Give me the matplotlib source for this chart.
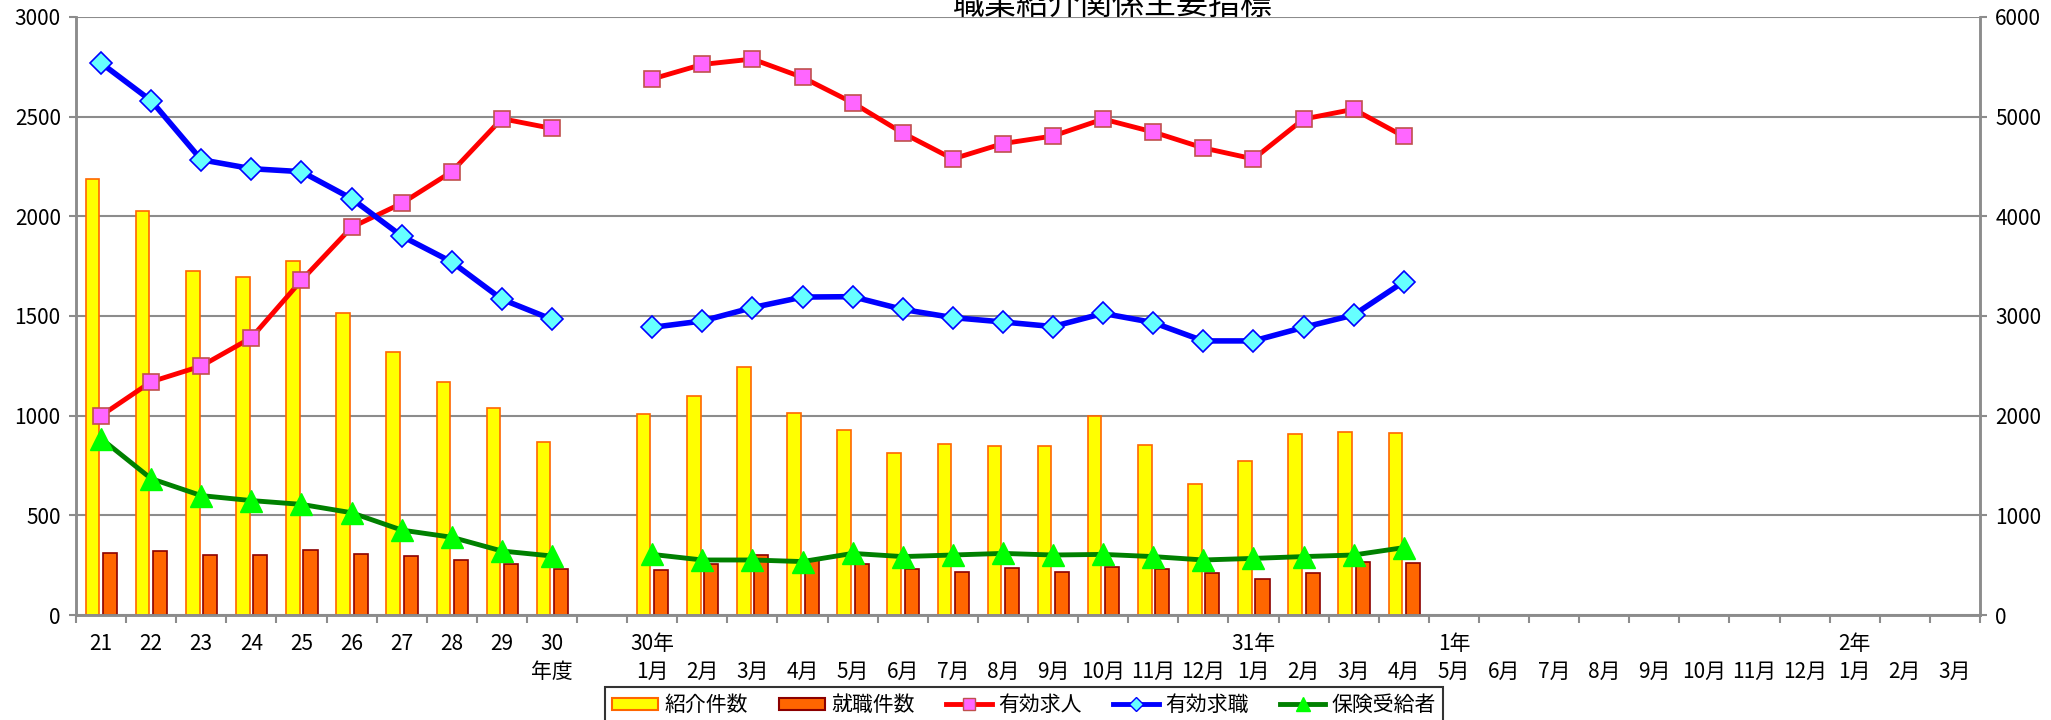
import numpy as np
import matplotlib.pyplot as plt
from matplotlib.patches import Patch
from matplotlib.lines import Line2D

plt.rcParams['font.family'] = ['Noto Sans CJK JP', 'DejaVu Sans']

# x categories: fiscal years, one empty slot, then months
fiscal_years = ['21', '22', '23', '24', '25', '26', '27', '28', '29', '30']
months = ['1月', '2月', '3月', '4月', '5月', '6月', '7月', '8月', '9月', '10月', '11月', '12月',
          '1月', '2月', '3月', '4月', '5月', '6月', '7月', '8月', '9月', '10月', '11月', '12月',
          '1月', '2月', '3月']
era_marks = {0: '30年', 12: '31年', 16: '1年', 24: '2年'}

# left axis (件)
referrals_year = [2185, 2025, 1724, 1697, 1776, 1513, 1319, 1169, 1040, 868]
referrals_month = [1007, 1100, 1244, 1015, 930, 814, 858, 848, 850, 998, 853, 655, 771, 910, 920, 911]
placements_year = [309, 323, 299, 301, 326, 306, 294, 276, 258, 231]
placements_month = [227, 254, 301, 274, 254, 232, 216, 237, 214, 242, 232, 212, 182, 209, 268, 261]
insured_year = [885, 684, 599, 574, 555, 513, 426, 390, 321, 296]
insured_month = [304, 276, 276, 268, 309, 293, 301, 309, 301, 304, 293, 276, 284, 293, 301, 338]

# right axis (人)
openings_year = [2000, 2340, 2498, 2782, 3358, 3890, 4130, 4448, 4980, 4882]
openings_month = [5378, 5524, 5578, 5394, 5140, 4836, 4576, 4730, 4806, 4976, 4846, 4686,
                  4576, 4976, 5074, 4802]
seekers_year = [5538, 5160, 4568, 4478, 4448, 4178, 3802, 3542, 3168, 2966]
seekers_month = [2886, 2950, 3084, 3190, 3194, 3066, 2984, 2940, 2894, 3026, 2934, 2750,
                 2750, 2886, 3010, 3344]


def full_series(yearly, monthly):
    pad = [np.nan] * (len(months) - len(monthly))
    return np.array(yearly + [np.nan] + monthly + pad, dtype=float)


n = len(fiscal_years) + 1 + len(months)
x = np.arange(n) + 0.5

labels = [fy + '\n' for fy in fiscal_years]
labels[-1] = fiscal_years[-1] + '\n年度'
labels.append('')
for i, m in enumerate(months):
    labels.append(era_marks.get(i, '') + '\n' + m)

referrals = full_series(referrals_year, referrals_month)
placements = full_series(placements_year, placements_month)
insured = full_series(insured_year, insured_month)
openings = full_series(openings_year, openings_month)
seekers = full_series(seekers_year, seekers_month)

fig = plt.figure(figsize=(20.51, 7.2), dpi=100)
ax = fig.add_axes([76 / 2051, 1 - 615 / 720, 1904 / 2051, 598 / 720])
ax2 = ax.twinx()

grid_c = '#8c8c8c'
ax.set_axisbelow(True)
ax.yaxis.grid(True, color=grid_c, lw=1.5)

ok = np.isfinite(referrals)
ax.bar(x[ok] - 0.17, referrals[ok], width=0.27, color='#FFFF00', edgecolor='#FF6600', lw=1.2)
ok = np.isfinite(placements)
ax.bar(x[ok] + 0.18, placements[ok], width=0.28, color='#FF6600', edgecolor='#8B0000', lw=1.2)

ax.plot(x, insured, color='#008000', lw=3.5, marker='^', ms=16,
        mfc='#00FF00', mec='#00FF00', zorder=3)
ax2.plot(x, openings, color='#FF0000', lw=3.5, marker='s', ms=11,
         mfc='#FF66FF', mec='#C0504D', mew=1.2)
ax2.plot(x, seekers, color='#0000FF', lw=4, marker='D', ms=11,
         mfc='#66FFFF', mec='#0000FF', mew=1.2)

ax.set_xlim(0, n)
ax.set_ylim(0, 3000)
ax2.set_ylim(0, 6000)
ax.set_yticks(np.arange(0, 3001, 500))
ax2.set_yticks(np.arange(0, 6001, 1000))

ax.set_xticks(x)
ax.set_xticklabels(labels, fontsize=15, linespacing=1.35)
ax.set_xticks(np.arange(n + 1), minor=True)
ax.tick_params(axis='x', which='major', length=0, pad=13)
ax.tick_params(axis='x', which='minor', length=6, width=1.5, color=grid_c, direction='out')
ax.tick_params(axis='y', labelsize=15, length=5, width=1.5, color=grid_c, pad=6)
ax2.tick_params(axis='y', labelsize=15, length=5, width=1.5, color=grid_c, pad=6)

for a in (ax, ax2):
    a.spines['top'].set_visible(False)
    for s in ('left', 'right', 'bottom'):
        a.spines[s].set_color(grid_c)
        a.spines[s].set_linewidth(1.8)

fig.text(1113 / 2051, 1 - 14 / 720, '職業紹介関係主要指標', fontsize=23,
         ha='center', va='baseline')

handles = [
    Patch(facecolor='#FFFF00', edgecolor='#FF6600', lw=1.5),
    Patch(facecolor='#FF6600', edgecolor='#8B0000', lw=1.5),
    Line2D([], [], color='#FF0000', lw=3.5, marker='s', ms=9, mfc='#FF66FF', mec='#C0504D'),
    Line2D([], [], color='#0000FF', lw=3.5, marker='D', ms=7, mfc='#66FFFF', mec='#0000FF'),
    Line2D([], [], color='#008000', lw=3.5, marker='^', ms=10, mfc='#00FF00', mec='#00FF00'),
]
names = ['紹介件数', '就職件数', '有効求人', '有効求職', '保険受給者']
leg = fig.legend(handles, names, loc='upper left', bbox_to_anchor=(605 / 2051, 1 - 687 / 720),
                 ncol=5, fontsize=15, frameon=True, fancybox=False, edgecolor='black',
                 handlelength=2.2, handleheight=0.55, handletextpad=0.3, columnspacing=1.5,
                 borderpad=0.35, borderaxespad=0)
leg.get_frame().set_linewidth(1.5)

fig.savefig('out.png', dpi=100)
